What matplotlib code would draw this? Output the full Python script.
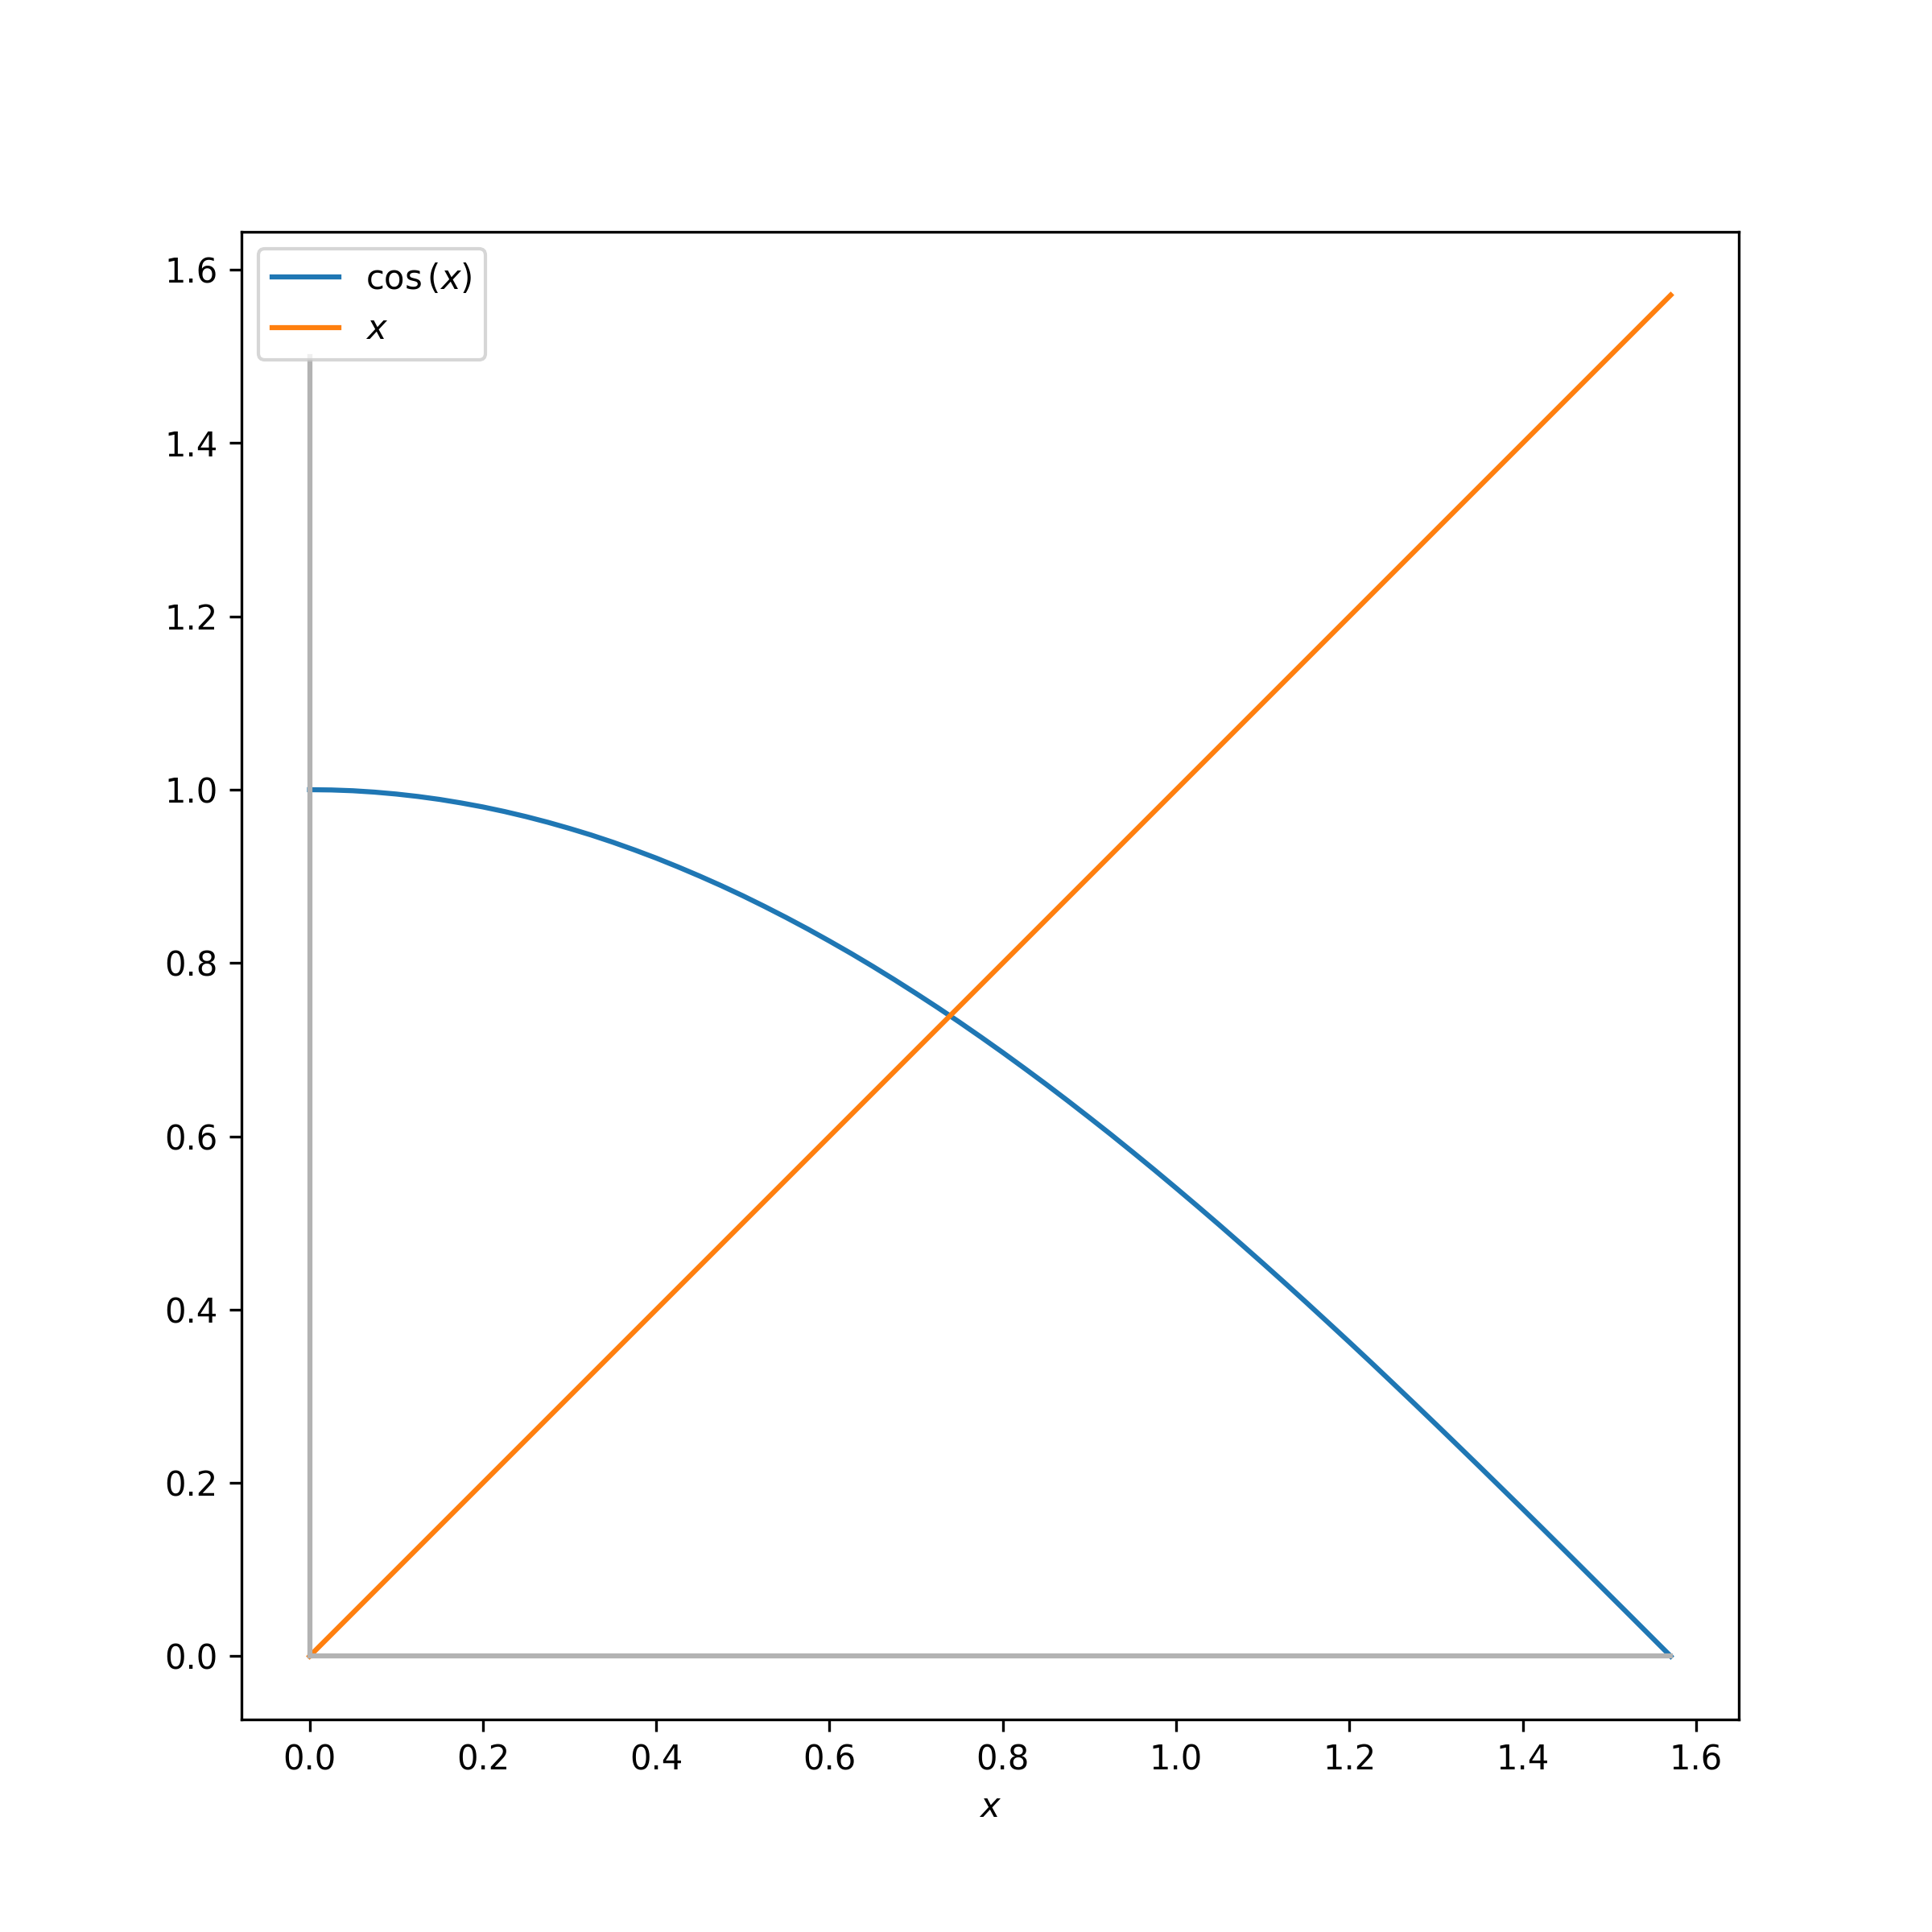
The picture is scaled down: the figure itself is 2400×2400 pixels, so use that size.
#!/usr/bin/env python3

import numpy as np
import matplotlib
matplotlib.use('Agg')
import matplotlib.pyplot as plt

# values
x_vals   = [0.0, 0.025, 0.05, 0.075, 0.1, 0.125, 0.15, 0.175, 0.2, 0.225,
            0.25, 0.275, 0.3, 0.325, 0.35, 0.375, 0.4, 0.425, 0.45, 0.475,
            0.5, 0.525, 0.55, 0.575, 0.6, 0.625, 0.65, 0.675, 0.7, 0.725,
            0.75, 0.775, 0.8, 0.825, 0.85, 0.875, 0.9, 0.925, 0.95, 0.975,
            1.0, 1.025, 1.05, 1.075, 1.1, 1.125, 1.15, 1.175, 1.2, 1.225,
            1.25, 1.275, 1.3, 1.325, 1.35, 1.375, 1.4, 1.425, 1.45, 1.475,
            1.5, 1.525, 1.55, 1.5708]
cos_vals = [1.0, 0.9997, 0.9988, 0.9972, 0.9950, 0.9922, 0.9888, 0.9847, 0.9801, 0.9748,
            0.9689, 0.9624, 0.9553, 0.9477, 0.9394, 0.9305, 0.9211, 0.9110, 0.9004, 0.8893,
            0.8776, 0.8653, 0.8525, 0.8392, 0.8253, 0.8110, 0.7961, 0.7807, 0.7648, 0.7485,
            0.7317, 0.7144, 0.6967, 0.6785, 0.6600, 0.6410, 0.6216, 0.6019, 0.5817, 0.5612,
            0.5403, 0.5191, 0.4976, 0.4757, 0.4536, 0.4312, 0.4085, 0.3855, 0.3624, 0.3390,
            0.3153, 0.2915, 0.2675, 0.2433, 0.2190, 0.1945, 0.1700, 0.1453, 0.1205, 0.0956,
            0.0707, 0.0458, 0.0208, 0.0]
# the orange line is y = x, same values as x_vals
id_vals  = list(x_vals)

# grey guide lines
vguide_x = [0.0, 0.0]
vguide_y = [0.0, 1.5]
hguide_x = [0.0, 1.5708]
hguide_y = [0.0, 0.0]

fig, ax = plt.subplots(figsize=(8, 8))
ax.plot(x_vals, cos_vals, label=r'$\cos\left(x\right)$')
ax.plot(x_vals, id_vals, label=r'$x$')
ax.plot(vguide_x, vguide_y, color='0.7')
ax.plot(hguide_x, hguide_y, color='0.7')
ax.axis('equal')
ax.set_xlabel(r'$x$')
ax.legend(loc='upper left')
plt.savefig('out.png', dpi=300)
